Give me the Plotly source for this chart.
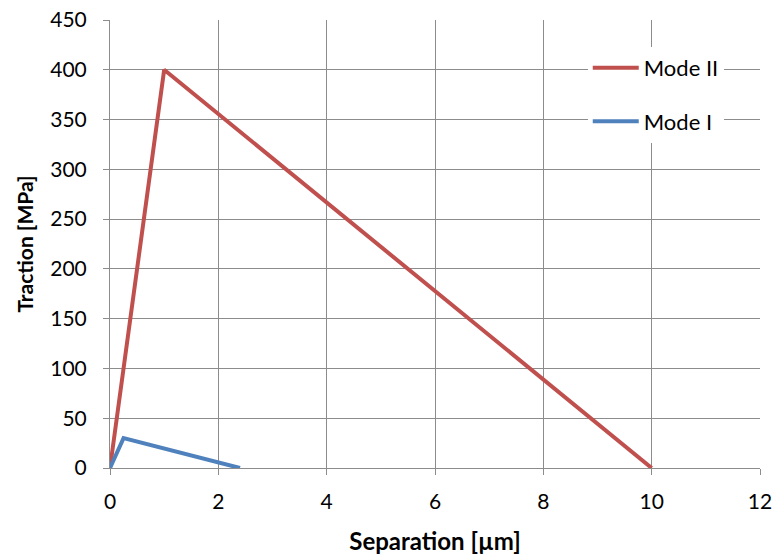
import plotly.graph_objects as go

mode2_x = [0, 1, 10]
mode2_y = [0, 400, 0]
mode1_x = [0, 0.25, 2.4]
mode1_y = [0, 30, 0]

x_ticks = [0, 2, 4, 6, 8, 10, 12]
y_ticks = [0, 50, 100, 150, 200, 250, 300, 350, 400, 450]

font = "Lato, 'Open Sans', sans-serif"
grid = "#8c8c8c"

fig = go.Figure()
fig.add_trace(go.Scatter(x=mode2_x, y=mode2_y, mode="lines", name="Mode II",
                         line=dict(color="#C0504D", width=4), legendgroup="a"))
fig.add_trace(go.Scatter(x=mode1_x, y=mode1_y, mode="lines", name="Mode I",
                         line=dict(color="#4F81BD", width=4), legendgroup="b"))

fig.update_layout(
    width=777, height=557,
    margin=dict(l=110, r=17, t=20, b=89),
    paper_bgcolor="white", plot_bgcolor="white",
    font=dict(family=font, size=21, color="black"),
    showlegend=True,
    legend=dict(x=0.735, y=0.94, xanchor="left", yanchor="top",
                bgcolor="white", borderwidth=0, tracegroupgap=22,
                font=dict(size=22, family=font), itemwidth=46,
                traceorder="grouped"),
    xaxis=dict(range=[0, 12], tickvals=x_ticks, showgrid=True, gridcolor=grid, gridwidth=1,
               zeroline=False, showline=True, linecolor=grid, linewidth=1,
               ticks="outside", ticklen=6, tickcolor=grid, automargin=False,
               ticklabelstandoff=9,
               title=dict(text="<b>Separation [µm]</b>", font=dict(size=24), standoff=20)),
    yaxis=dict(range=[0, 450], tickvals=y_ticks, showgrid=True, gridcolor=grid, gridwidth=1,
               zeroline=False, showline=True, linecolor=grid, linewidth=1,
               ticks="outside", ticklen=6, tickcolor=grid, automargin=False,
               ticklabelstandoff=12,
               title=dict(text="<b>Traction [MPa]</b>", font=dict(size=21), standoff=10)),
)

fig.write_html("out.html")
